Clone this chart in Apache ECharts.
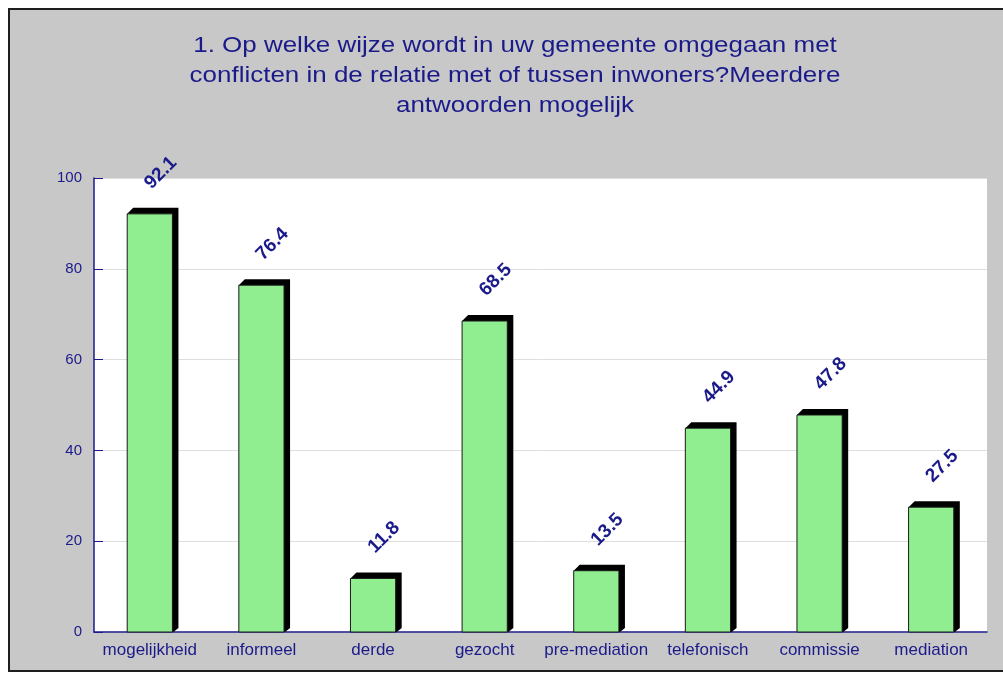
<!DOCTYPE html>
<html>
<head>
<meta charset="utf-8">
<script src="https://cdn.jsdelivr.net/npm/echarts@6/dist/echarts.min.js"></script>
<style>
    html, body { margin: 0; padding: 0; background: #ffffff; overflow: hidden; }
    #frame { position: absolute; left: 8px; top: 8px; width: 1010px; height: 660px;
             background: #c8c8c8; border: 2px solid #1e1e1e; }
    #chart { position: absolute; left: 0; top: 0; width: 1003px; height: 673px; }
</style>
</head>
<body>
<div id="frame"></div>
<div id="chart"></div>
<script>
var categories = ['mogelijkheid', 'informeel', 'derde', 'gezocht', 'pre-mediation', 'telefonisch', 'commissie', 'mediation'];
var percentages = [92.1, 76.4, 11.8, 68.5, 13.5, 44.9, 47.8, 27.5];
var yTicks = [0, 20, 40, 60, 80, 100];
var titleText = '1. Op welke wijze wordt in uw gemeente omgegaan met\nconflicten in de relatie met of tussen inwoners?Meerdere\nantwoorden mogelijk';

(function() {
    "use strict";
    var navy = '#1a1a8a';
    var font = '"Liberation Sans", Arial, sans-serif';
    var depth = 6;
    var chart = echarts.init(document.getElementById('chart'));

    function renderBar(params, api) {
        var idx = api.value(0);
        var top = api.coord([idx, api.value(1)]);
        var base = api.coord([idx, 0]);
        var band = api.size([1, 0])[0];
        var w = band * 0.405;
        var x0 = top[0] - w / 2;
        var x1 = x0 + w;
        return {
            type: 'group',
            children: [
                {
                    type: 'polygon',
                    shape: { points: [
                        [x0, top[1]], [x0 + depth, top[1] - depth],
                        [x1 + depth, top[1] - depth], [x1 + depth, base[1] - depth + 2],
                        [x1 + 1, base[1]], [x1, base[1]]
                    ] },
                    style: { fill: '#000000' }
                },
                {
                    type: 'rect',
                    shape: { x: x0, y: top[1], width: w, height: base[1] - top[1] },
                    style: { fill: '#90ee90', stroke: '#1a1a1a', lineWidth: 1 }
                },
                {
                    type: 'text',
                    x: top[0] + 11,
                    y: top[1] - 41,
                    rotation: Math.PI / 4,
                    style: {
                        text: String(api.value(1)),
                        align: 'center',
                        verticalAlign: 'middle',
                        fill: navy,
                        font: 'bold 19px ' + font
                    }
                }
            ]
        };
    }

    var option = {
        animation: false,
        backgroundColor: 'transparent',
        textStyle: { fontFamily: font },
        graphic: [
            {
                type: 'text',
                x: 515,
                y: 31,
                scaleX: 1.18,
                style: {
                    text: titleText,
                    align: 'center',
                    verticalAlign: 'top',
                    fill: navy,
                    font: '22px ' + font,
                    lineHeight: 30
                }
            }
        ],
        grid: {
            left: 94,
            right: 16,
            top: 178,
            bottom: 41,
            show: true,
            backgroundColor: '#ffffff',
            borderWidth: 0
        },
        xAxis: {
            type: 'category',
            data: categories,
            axisLine: { lineStyle: { color: navy, width: 1.5 } },
            axisTick: { inside: true, length: 8, lineStyle: { color: navy } },
            axisLabel: { color: navy, fontSize: 17, margin: 10, interval: 0 },
            splitLine: { show: false }
        },
        yAxis: {
            type: 'value',
            min: yTicks[0],
            max: yTicks[yTicks.length - 1],
            interval: 20,
            axisLine: { show: true, lineStyle: { color: navy, width: 1.5 } },
            axisTick: { show: true, inside: true, length: 9, lineStyle: { color: navy } },
            axisLabel: { color: navy, fontSize: 15, margin: 12 },
            splitLine: { lineStyle: { color: '#dedede', width: 1 } }
        },
        series: [
            {
                type: 'custom',
                clip: false,
                renderItem: renderBar,
                encode: { x: 0, y: 1 },
                data: percentages.map(function(v, i) { return [i, v]; })
            }
        ]
    };
    chart.setOption(option);
})();
</script>
</body>
</html>
